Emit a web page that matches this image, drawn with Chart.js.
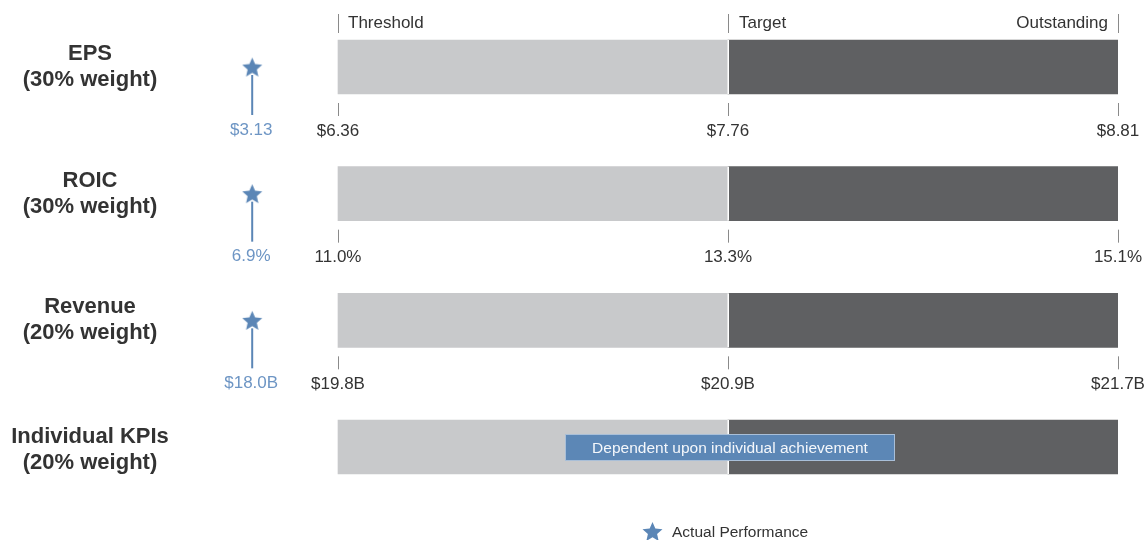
<!DOCTYPE html>
<html><head><meta charset="utf-8">
<script src="https://cdn.jsdelivr.net/npm/chart.js@4.4.0/dist/chart.umd.min.js"></script>
<style>html,body{margin:0;padding:0;background:#fff;overflow:hidden}canvas{display:block}</style>
</head><body>
<canvas id="c" width="1145" height="540"></canvas>
<script>
// ---- data ----
const categories = ['EPS', 'ROIC', 'Revenue', 'Individual KPIs'];
const weights = ['(30% weight)', '(30% weight)', '(20% weight)', '(20% weight)'];
const thresholdVals = [6.36, 11.0, 19.8, null];
const targetVals = [7.76, 13.3, 20.9, null];
const outstandingVals = [8.81, 15.1, 21.7, null];
const actualVals = [3.13, 6.9, 18.0, null];
const unitKinds = ['usd', 'pct', 'usdB', null];
const levelNames = ['Threshold', 'Target', 'Outstanding'];
const kpiNote = 'Dependent upon individual achievement';
const legendLabel = 'Actual Performance';

// normalized performance scale: threshold = 0, target = 1, outstanding = 2
const LEVEL = {threshold: 0, target: 1, outstanding: 2};
const BELOW_THRESHOLD = -0.22; // slot used for results below threshold

function fmt(v, kind) {
  if (v == null) return '';
  if (kind === 'usd') return '$' + v.toFixed(2);
  if (kind === 'pct') return v.toFixed(1) + '%';
  if (kind === 'usdB') return '$' + v.toFixed(1) + 'B';
  return String(v);
}

const FONT = '"Liberation Sans", Arial, Helvetica, sans-serif';
const STAR_COLOR = '#5b86b6';

function starImage(size, color) {
  const c = document.createElement('canvas');
  c.width = size; c.height = size;
  const g = c.getContext('2d');
  g.fillStyle = color;
  g.beginPath();
  const R = size / 2, r = size * 0.23;
  for (let i = 0; i < 10; i++) {
    const rad = i % 2 ? r : R;
    const a = -Math.PI / 2 + i * Math.PI / 5;
    g.lineTo(size / 2 + rad * Math.cos(a), size / 2 + 1 + rad * Math.sin(a));
  }
  g.closePath();
  g.fill();
  return c;
}
const star = starImage(21, STAR_COLOR);

const overlay = {
  id: 'overlay',
  beforeDatasetsDraw(chart) {
    const ctx = chart.ctx;
    const meta = chart.getDatasetMeta(2);
    ctx.save();
    ctx.strokeStyle = STAR_COLOR;
    ctx.lineWidth = 2;
    meta.data.forEach((p, i) => {
      if (actualVals[i] == null) return;
      ctx.beginPath();
      ctx.moveTo(p.x, p.y + 8);
      ctx.lineTo(p.x, p.y + 48);
      ctx.stroke();
    });
    ctx.restore();
  },
  afterDatasetsDraw(chart) {
    const ctx = chart.ctx;
    const xs = chart.scales.x, ys = chart.scales.y;
    const x0 = xs.getPixelForValue(LEVEL.threshold);
    const x1 = xs.getPixelForValue(LEVEL.target);
    const x2 = xs.getPixelForValue(LEVEL.outstanding);
    const barMeta = chart.getDatasetMeta(1);
    ctx.save();
    // separator between segments
    barMeta.data.forEach(b => {
      ctx.fillStyle = '#ffffff';
      ctx.fillRect(x1 - 0.5, b.y - b.height / 2, 1.5, b.height);
    });
    // top level labels (first row)
    const yc0 = ys.getPixelForValue(0);
    ctx.strokeStyle = '#8a8a8a';
    ctx.lineWidth = 1;
    [x0, x1, x2].forEach(x => {
      ctx.beginPath();
      ctx.moveTo(Math.round(x) + 0.5, yc0 - 53);
      ctx.lineTo(Math.round(x) + 0.5, yc0 - 34);
      ctx.stroke();
    });
    ctx.fillStyle = '#333333';
    ctx.font = '17px ' + FONT;
    ctx.textBaseline = 'middle';
    ctx.textAlign = 'left';
    ctx.fillText(levelNames[0], x0 + 10, yc0 - 44);
    ctx.fillText(levelNames[1], x1 + 11, yc0 - 44);
    ctx.textAlign = 'right';
    ctx.fillText(levelNames[2], x2 - 10, yc0 - 44);

    categories.forEach((cat, i) => {
      const yc = ys.getPixelForValue(i);
      // left category labels
      ctx.fillStyle = '#333333';
      ctx.font = 'bold 22px ' + FONT;
      ctx.textAlign = 'center';
      ctx.textBaseline = 'middle';
      const off = i === 3 ? 3 : 0;
      ctx.fillText(cat, 90, yc - 13 + off);
      ctx.fillText(weights[i], 90, yc + 13 + off);
      // ticks & values
      if (thresholdVals[i] != null) {
        const vals = [thresholdVals[i], targetVals[i], outstandingVals[i]];
        [x0, x1, x2].forEach((x, k) => {
          ctx.strokeStyle = '#8a8a8a';
          ctx.beginPath();
          ctx.moveTo(Math.round(x) + 0.5, yc + 36);
          ctx.lineTo(Math.round(x) + 0.5, yc + 49);
          ctx.stroke();
          ctx.fillStyle = '#333333';
          ctx.font = '17px ' + FONT;
          ctx.textAlign = 'center';
          ctx.fillText(fmt(vals[k], unitKinds[i]), x, yc + 64);
        });
      }
    });
    // actual value labels
    const sMeta = chart.getDatasetMeta(2);
    sMeta.data.forEach((p, i) => {
      if (actualVals[i] == null) return;
      ctx.fillStyle = '#6d95c4';
      ctx.font = '17px ' + FONT;
      ctx.textAlign = 'center';
      ctx.textBaseline = 'middle';
      ctx.fillText(fmt(actualVals[i], unitKinds[i]), p.x - 1, p.y + 63);
    });
    // KPI note box
    const y3 = ys.getPixelForValue(3);
    const bw = 330, bh = 27;
    const bx = x1 + 2 - bw / 2, by = y3 - 13;
    ctx.fillStyle = '#5c87b6';
    ctx.fillRect(bx, by, bw, bh);
    ctx.strokeStyle = '#a9bfd8';
    ctx.lineWidth = 1;
    ctx.strokeRect(bx + 0.5, by + 0.5, bw - 1, bh - 1);
    ctx.fillStyle = '#f4f7fb';
    ctx.font = '15.5px ' + FONT;
    ctx.textAlign = 'center';
    ctx.textBaseline = 'middle';
    ctx.fillText(kpiNote, bx + bw / 2, by + bh / 2 + 1);
    // legend
    ctx.drawImage(star, 642, 521);
    ctx.fillStyle = '#333333';
    ctx.font = '15.5px ' + FONT;
    ctx.textAlign = 'left';
    ctx.fillText(legendLabel, 672, 533);
    ctx.restore();
  }
};

new Chart(document.getElementById('c'), {
  type: 'bar',
  data: {
    labels: categories,
    datasets: [
      {
        label: 'Threshold to Target',
        data: categories.map(() => [LEVEL.threshold, LEVEL.target]),
        backgroundColor: '#c8c9cb',
        borderWidth: 0,
        barThickness: 54,
        grouped: false,
        order: 2
      },
      {
        label: 'Target to Outstanding',
        data: categories.map(() => [LEVEL.target, LEVEL.outstanding]),
        backgroundColor: '#5f6062',
        borderWidth: 0,
        barThickness: 54,
        grouped: false,
        order: 2
      },
      {
        type: 'line',
        label: legendLabel,
        indexAxis: 'y',
        data: actualVals.map(v => v == null ? null : BELOW_THRESHOLD),
        showLine: false,
        pointStyle: star,
        pointRadius: 10,
        clip: false,
        order: 0
      }
    ]
  },
  options: {
    indexAxis: 'y',
    responsive: false,
    animation: false,
    events: [],
    devicePixelRatio: 1,
    layout: {autoPadding: false, padding: {left: 143, right: 27, top: 3.67, bottom: 29.67}},
    plugins: {legend: {display: false}, tooltip: {enabled: false}},
    scales: {
      x: {type: 'linear', min: -0.5, max: 2, display: false},
      y: {type: 'category', display: false, offset: true}
    }
  },
  plugins: [overlay]
});
</script>
</body></html>
